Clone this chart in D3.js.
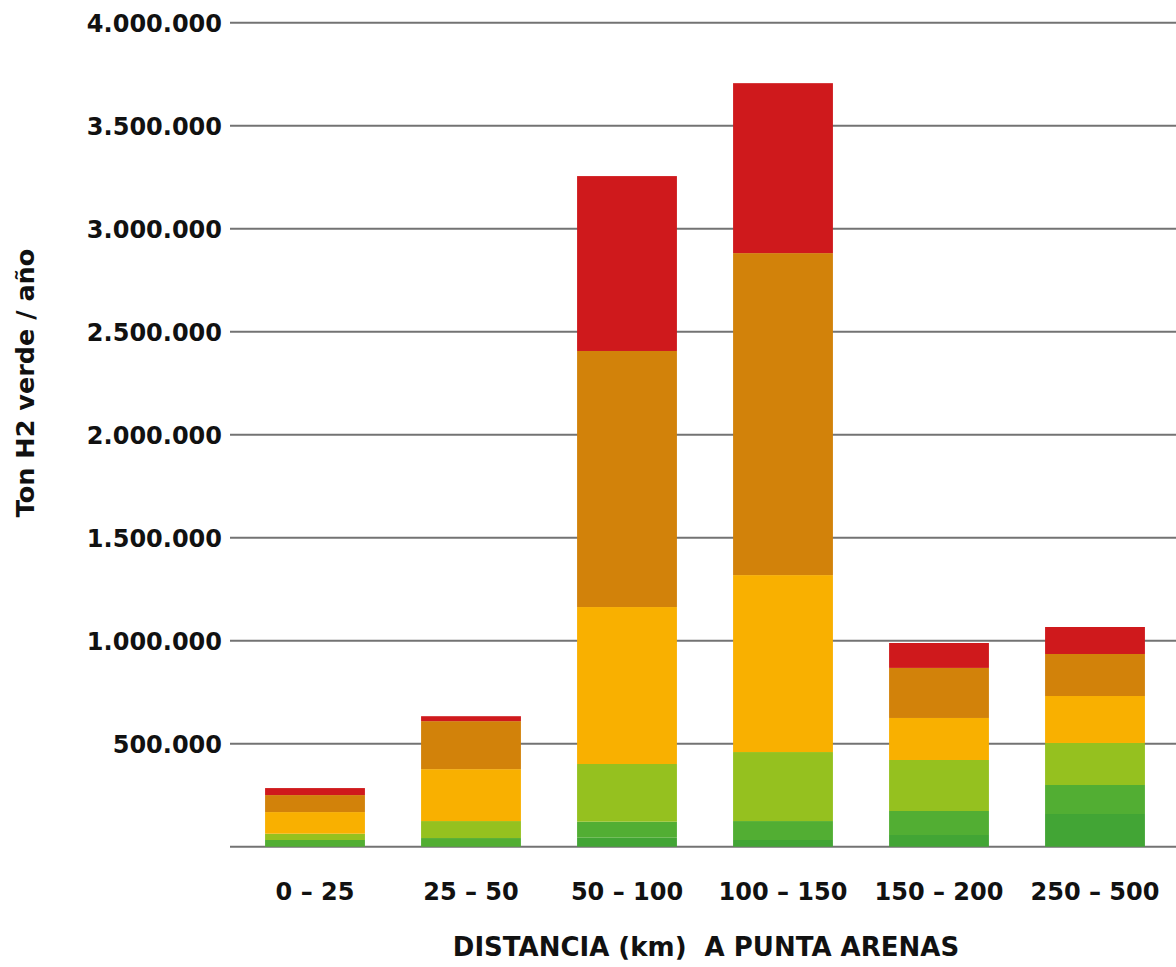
<!DOCTYPE html>
<html>
<head>
<meta charset="utf-8">
<script src="https://cdn.jsdelivr.net/npm/d3@7"></script>
<style>
  html, body { margin: 0; padding: 0; background: #fff; }
  svg text { font-family: "DejaVu Sans", Verdana, sans-serif; font-weight: bold; fill: #111; }
</style>
</head>
<body>
<svg id="chart" width="1176" height="967"></svg>
<script>
// Distance bands to Punta Arenas
const categories = ["0 – 25", "25 – 50", "50 – 100", "100 – 150", "150 – 200", "250 – 500"];

// Tons of green H2 per year, stacked bottom to top
const seriesNames = ["s1", "s2", "s3", "s4", "s5", "s6"];
const s1 = [0, 0, 43700, 32500, 56800, 158700];
const s2 = [32500, 42000, 77700, 92000, 116500, 140800];
const s3 = [30600, 82500, 280000, 335000, 247600, 204000];
const s4 = [105000, 252000, 762000, 859000, 204000, 228000];
const s5 = [82500, 233000, 1243000, 1563000, 243000, 204000];
const s6 = [34000, 24000, 849000, 825000, 121000, 131000];
const seriesColors = ["#42a535", "#52ae33", "#95c11f", "#f9b000", "#d2820a", "#cf191c"];

const yTicks = [0, 500000, 1000000, 1500000, 2000000, 2500000, 3000000, 3500000, 4000000];

const rows = categories.map((c, i) => ({
  cat: c, s1: s1[i], s2: s2[i], s3: s3[i], s4: s4[i], s5: s5[i], s6: s6[i]
}));

const svg = d3.select("#chart");

const x = d3.scaleBand()
  .domain(categories)
  .range([237, 1173])
  .paddingInner(0.36)
  .paddingOuter(0.18);

const y = d3.scaleLinear()
  .domain([0, 4000000])
  .range([846.7, 22.7]);

const fmt = v => d3.format(",")(v).replace(/,/g, ".");

// Horizontal gridlines
const grid = svg.append("g");
grid.selectAll("line")
  .data(yTicks)
  .join("line")
  .attr("x1", 230)
  .attr("x2", 1176)
  .attr("y1", d => y(d))
  .attr("y2", d => y(d))
  .attr("stroke", "#737373")
  .attr("stroke-width", 2);

// Y tick labels
const yAxis = d3.axisLeft(y).tickValues(yTicks).tickFormat(d => d === 0 ? "" : fmt(d)).tickSize(0).tickPadding(0);
const yg = svg.append("g").attr("transform", "translate(222,0)").call(yAxis);
yg.select(".domain").remove();
yg.selectAll("text")
  .attr("font-size", 24)
  .attr("font-family", "DejaVu Sans, Verdana, sans-serif")
  .attr("font-weight", "bold")
  .attr("fill", "#111")
  .attr("dy", "0.36em");

// Stacked bars
const stack = d3.stack().keys(seriesNames);
const layers = stack(rows);

svg.append("g")
  .selectAll("g")
  .data(layers)
  .join("g")
  .attr("fill", (d, i) => seriesColors[i])
  .selectAll("rect")
  .data(d => d)
  .join("rect")
  .attr("x", d => x(d.data.cat))
  .attr("width", x.bandwidth())
  .attr("y", d => y(d[1]))
  .attr("height", d => y(d[0]) - y(d[1]));

// X category labels
const xAxis = d3.axisBottom(x).tickSize(0).tickPadding(0);
const xg = svg.append("g").attr("transform", "translate(0,891)").call(xAxis);
xg.select(".domain").remove();
xg.selectAll("text")
  .attr("font-size", 24)
  .attr("font-family", "DejaVu Sans, Verdana, sans-serif")
  .attr("font-weight", "bold")
  .attr("fill", "#111")
  .attr("dy", "0.36em");

// Axis titles
svg.append("text")
  .attr("x", 706)
  .attr("y", 956)
  .attr("text-anchor", "middle")
  .attr("font-size", 26)
  .style("white-space", "pre")
  .text("DISTANCIA (km)  A PUNTA ARENAS");

svg.append("text")
  .attr("transform", "translate(34,383) rotate(-90)")
  .attr("text-anchor", "middle")
  .attr("font-size", 25.5)
  .text("Ton H2 verde / año");
</script>
</body>
</html>
